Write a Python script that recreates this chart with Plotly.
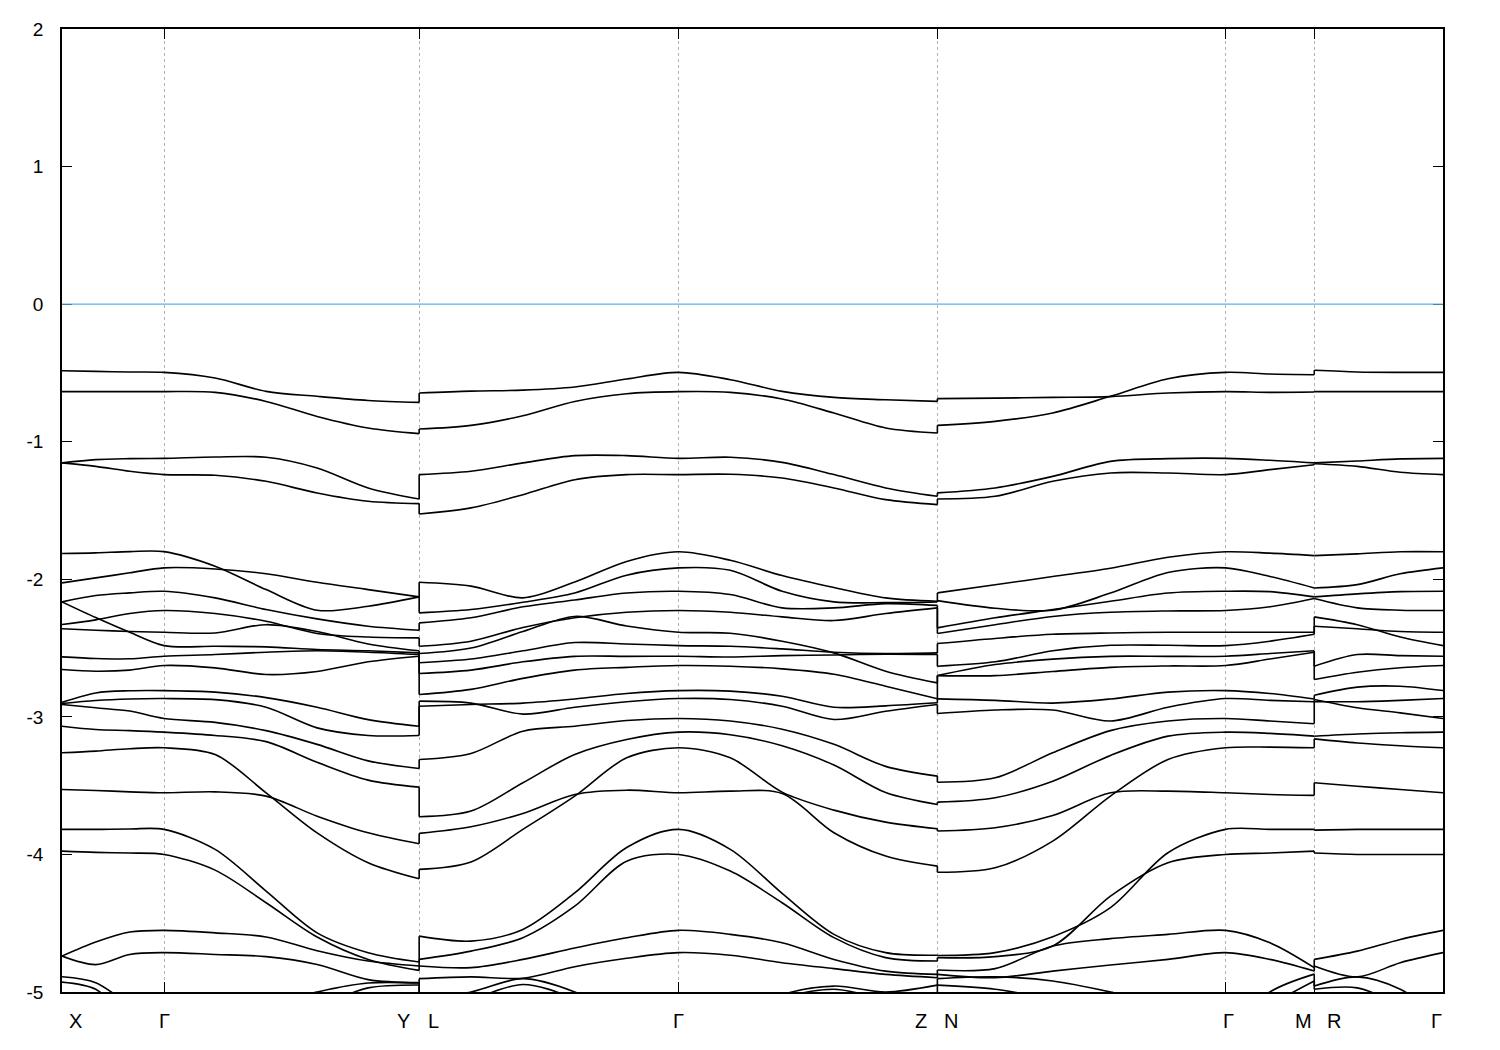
import plotly.graph_objects as go

# ---------------- data ----------------
# high-symmetry points along the k-path (path-length units)
k_sym = [0.0, 102.0, 357.0, 616.2, 875.0, 1163.0, 1251.7, 1380.4]
sym_labels = ["X", "Γ", "Y", "L", "Γ", "Z", "N", "Γ", "M", "R", "Γ"]

# run A : X - Γ - Y
kA = [0.0, 33.7, 67.7, 102.0, 153.0, 204.0, 255.0, 306.0, 357.0]
EA = [
    [-0.484, -0.489, -0.493, -0.496, -0.537, -0.634, -0.670, -0.700, -0.714],
    [-0.636, -0.636, -0.636, -0.636, -0.641, -0.707, -0.816, -0.900, -0.941],
    [-1.154, -1.130, -1.123, -1.121, -1.111, -1.113, -1.191, -1.336, -1.416],
    [-1.154, -1.179, -1.215, -1.239, -1.244, -1.288, -1.373, -1.433, -1.450],
    [-1.813, -1.808, -1.799, -1.799, -1.905, -2.075, -2.225, -2.196, -2.128],
    [-2.026, -1.990, -1.953, -1.917, -1.925, -1.960, -2.022, -2.075, -2.128],
    [-2.164, -2.118, -2.099, -2.087, -2.135, -2.220, -2.288, -2.341, -2.370],
    [-2.164, -2.278, -2.385, -2.482, -2.487, -2.491, -2.510, -2.520, -2.535],
    [-2.329, -2.295, -2.249, -2.227, -2.249, -2.305, -2.394, -2.420, -2.426],
    [-2.360, -2.370, -2.380, -2.385, -2.390, -2.330, -2.380, -2.470, -2.520],
    [-2.564, -2.576, -2.578, -2.559, -2.547, -2.530, -2.520, -2.530, -2.547],
    [-2.656, -2.668, -2.660, -2.627, -2.644, -2.692, -2.670, -2.600, -2.559],
    [-2.895, -2.826, -2.810, -2.809, -2.820, -2.860, -2.930, -3.020, -3.068],
    [-2.903, -2.881, -2.870, -2.867, -2.875, -2.930, -3.080, -3.135, -3.135],
    [-2.910, -2.934, -2.958, -3.012, -3.040, -3.100, -3.200, -3.320, -3.375],
    [-3.068, -3.092, -3.100, -3.111, -3.135, -3.180, -3.330, -3.460, -3.511],
    [-3.261, -3.249, -3.232, -3.225, -3.274, -3.552, -3.843, -4.060, -4.177],
    [-3.528, -3.535, -3.545, -3.552, -3.545, -3.576, -3.722, -3.843, -3.922],
    [-3.818, -3.818, -3.815, -3.818, -3.963, -4.266, -4.570, -4.714, -4.782],
    [-3.976, -3.985, -3.990, -4.000, -4.114, -4.351, -4.600, -4.763, -4.843],
    [-4.739, -4.637, -4.564, -4.552, -4.570, -4.600, -4.700, -4.775, -4.811],
    [-4.739, -4.801, -4.727, -4.714, -4.727, -4.743, -4.800, -4.910, -4.932],
    [-4.889, -4.932, -5.100, -5.300, -5.200, -5.100, -5.000, -4.935, -4.935],
    [-4.928, -4.980, -5.200, -5.350, -5.250, -5.150, -5.100, -4.970, -4.949],
]

# run B : L - Γ - Z
kB = [357.0, 408.8, 460.7, 512.5, 564.4, 616.2, 668.0, 719.8, 771.6, 823.3, 875.0]
EB = [
    [-0.646, -0.632, -0.625, -0.602, -0.544, -0.496, -0.549, -0.634, -0.678, -0.695, -0.707],
    [-0.908, -0.881, -0.811, -0.707, -0.651, -0.636, -0.641, -0.690, -0.791, -0.900, -0.937],
    [-1.239, -1.215, -1.154, -1.101, -1.101, -1.121, -1.113, -1.150, -1.239, -1.336, -1.397],
    [-1.525, -1.481, -1.385, -1.276, -1.239, -1.239, -1.237, -1.264, -1.336, -1.421, -1.457],
    [-2.022, -2.050, -2.135, -2.020, -1.870, -1.800, -1.862, -1.973, -2.060, -2.135, -2.160],
    [-2.244, -2.220, -2.167, -2.100, -1.970, -1.917, -1.935, -2.087, -2.164, -2.170, -2.165],
    [-2.317, -2.280, -2.200, -2.150, -2.100, -2.087, -2.111, -2.208, -2.208, -2.177, -2.190],
    [-2.487, -2.450, -2.350, -2.280, -2.240, -2.227, -2.240, -2.273, -2.300, -2.249, -2.208],
    [-2.540, -2.500, -2.380, -2.270, -2.340, -2.385, -2.392, -2.450, -2.535, -2.668, -2.753],
    [-2.607, -2.580, -2.520, -2.460, -2.470, -2.482, -2.487, -2.506, -2.530, -2.540, -2.535],
    [-2.685, -2.660, -2.600, -2.560, -2.560, -2.559, -2.565, -2.555, -2.550, -2.545, -2.547],
    [-2.838, -2.800, -2.720, -2.660, -2.640, -2.627, -2.632, -2.651, -2.690, -2.777, -2.869],
    [-2.886, -2.900, -2.980, -2.930, -2.890, -2.867, -2.874, -2.923, -3.019, -2.959, -2.910],
    [-2.923, -2.910, -2.900, -2.870, -2.830, -2.809, -2.813, -2.850, -2.930, -2.920, -2.898],
    [-3.310, -3.266, -3.104, -3.068, -3.027, -3.012, -3.030, -3.090, -3.200, -3.360, -3.431],
    [-3.726, -3.685, -3.479, -3.274, -3.165, -3.111, -3.130, -3.210, -3.350, -3.550, -3.637],
    [-4.109, -4.055, -3.818, -3.576, -3.298, -3.225, -3.298, -3.547, -3.678, -3.765, -3.813],
    [-3.847, -3.799, -3.702, -3.564, -3.533, -3.552, -3.540, -3.557, -3.842, -4.012, -4.085],
    [-4.594, -4.630, -4.545, -4.280, -3.950, -3.818, -3.963, -4.283, -4.581, -4.714, -4.733],
    [-4.763, -4.703, -4.605, -4.376, -4.049, -4.000, -4.121, -4.351, -4.605, -4.750, -4.775],
    [-4.811, -4.823, -4.763, -4.680, -4.606, -4.552, -4.581, -4.642, -4.763, -4.848, -4.872],
    [-4.903, -4.890, -4.900, -4.816, -4.755, -4.714, -4.733, -4.787, -4.830, -4.872, -4.896],
    [-5.050, -5.000, -4.903, -5.000, -5.200, -5.300, -5.200, -5.020, -4.957, -5.000, -4.950],
    [-5.100, -5.050, -4.945, -5.050, -5.250, -5.350, -5.250, -5.050, -4.980, -5.050, -5.050],
]

# run C : N - Γ - M
kC = [875.0, 932.7, 990.3, 1048.0, 1105.5, 1163.0, 1207.4, 1251.7]
EC = [
    [-0.687, -0.683, -0.678, -0.672, -0.646, -0.636, -0.641, -0.639],
    [-0.881, -0.852, -0.791, -0.670, -0.542, -0.496, -0.508, -0.513],
    [-1.372, -1.336, -1.252, -1.143, -1.123, -1.121, -1.135, -1.154],
    [-1.416, -1.397, -1.288, -1.227, -1.227, -1.239, -1.203, -1.167],
    [-2.099, -2.040, -1.980, -1.920, -1.840, -1.800, -1.810, -1.828],
    [-2.155, -2.210, -2.225, -2.100, -1.950, -1.917, -1.980, -2.063],
    [-2.353, -2.280, -2.220, -2.160, -2.100, -2.087, -2.090, -2.128],
    [-2.394, -2.330, -2.270, -2.240, -2.230, -2.227, -2.200, -2.140],
    [-2.467, -2.430, -2.400, -2.390, -2.385, -2.385, -2.385, -2.385],
    [-2.632, -2.600, -2.520, -2.480, -2.480, -2.482, -2.450, -2.400],
    [-2.700, -2.620, -2.580, -2.560, -2.560, -2.559, -2.540, -2.520],
    [-2.700, -2.700, -2.670, -2.640, -2.630, -2.627, -2.580, -2.530],
    [-2.869, -2.880, -2.900, -2.870, -2.820, -2.809, -2.830, -2.870],
    [-2.976, -2.950, -2.950, -3.030, -2.930, -2.867, -2.880, -2.890],
    [-3.475, -3.443, -3.261, -3.100, -3.030, -3.012, -3.030, -3.050],
    [-3.620, -3.588, -3.468, -3.280, -3.140, -3.111, -3.120, -3.140],
    [-4.130, -4.097, -3.903, -3.576, -3.310, -3.225, -3.220, -3.225],
    [-3.830, -3.806, -3.717, -3.552, -3.540, -3.552, -3.564, -3.571],
    [-4.735, -4.714, -4.598, -4.387, -3.988, -3.818, -3.818, -3.818],
    [-4.750, -4.743, -4.666, -4.303, -4.060, -4.000, -3.990, -3.976],
    [-4.840, -4.830, -4.666, -4.612, -4.581, -4.552, -4.642, -4.823],
    [-4.872, -4.896, -4.848, -4.804, -4.763, -4.714, -4.763, -4.848],
    [-4.903, -4.890, -4.920, -5.000, -5.100, -5.300, -5.000, -4.870],
    [-4.950, -4.980, -5.050, -5.100, -5.200, -5.350, -5.100, -4.920],
]

# run D : R - Γ
kD = [1251.7, 1294.7, 1337.7, 1380.4]
ED = [
    [-0.481, -0.493, -0.496, -0.496],
    [-0.636, -0.636, -0.636, -0.636],
    [-1.154, -1.140, -1.125, -1.121],
    [-1.160, -1.179, -1.222, -1.239],
    [-1.828, -1.815, -1.800, -1.800],
    [-2.063, -2.039, -1.960, -1.917],
    [-2.128, -2.106, -2.090, -2.087],
    [-2.140, -2.208, -2.225, -2.227],
    [-2.273, -2.330, -2.420, -2.482],
    [-2.341, -2.360, -2.380, -2.385],
    [-2.632, -2.547, -2.555, -2.559],
    [-2.729, -2.676, -2.643, -2.627],
    [-2.843, -2.784, -2.777, -2.809],
    [-2.874, -2.934, -2.971, -3.012],
    [-2.890, -2.890, -2.880, -2.867],
    [-3.141, -3.125, -3.115, -3.111],
    [-3.160, -3.190, -3.210, -3.225],
    [-3.479, -3.504, -3.528, -3.552],
    [-3.823, -3.818, -3.818, -3.818],
    [-3.990, -4.000, -4.000, -4.000],
    [-4.763, -4.703, -4.618, -4.552],
    [-4.811, -4.890, -4.787, -4.714],
    [-4.957, -4.890, -4.980, -5.200],
    [-4.980, -4.970, -5.100, -5.300],
]

y_ticks = [2, 1, 0, -1, -2, -3, -4, -5]
fermi_level = 0.0

# ---------------- figure ----------------
fig = go.Figure()
band_line = dict(color="black", width=1.6, shape="spline", smoothing=0.9)

for k, E in [(kA, EA), (kB, EB), (kC, EC), (kD, ED)]:
    for row in E:
        fig.add_trace(go.Scatter(x=k, y=row, mode="lines", line=band_line,
                                 hoverinfo="skip", showlegend=False))

# vertical steps at the path discontinuities (bands connected by index)
jx, jy = [], []
for kpos, Eleft, Eright in [(kA[-1], EA, EB), (kB[-1], EB, EC), (kC[-1], EC, ED)]:
    ends = sorted(r[-1] for r in Eleft)
    starts = sorted(r[0] for r in Eright)
    for a, b in zip(ends, starts):
        jx += [kpos, kpos, None]
        jy += [a, b, None]
fig.add_trace(go.Scatter(x=jx, y=jy, mode="lines",
                         line=dict(color="black", width=1.6),
                         hoverinfo="skip", showlegend=False))

# Fermi level
fig.add_shape(type="line", xref="paper", x0=0, x1=1, yref="y",
              y0=fermi_level, y1=fermi_level,
              line=dict(color="#56b4e9", width=1.2), layer="above")

font_family = "Liberation Sans, Arial, sans-serif"

fig.update_layout(
    width=1500, height=1050,
    margin=dict(l=54, r=65, t=21, b=66),
    paper_bgcolor="white", plot_bgcolor="white",
    font=dict(family=font_family, size=19, color="black"),
    showlegend=False,
)
fig.update_xaxes(
    range=[k_sym[0], k_sym[-1]],
    tickvals=k_sym, ticktext=[""] * len(k_sym),
    ticks="inside", ticklen=10, tickwidth=1, tickcolor="black",
    showgrid=True, gridcolor="#b0b0b0", gridwidth=1, griddash="3px,3px",
    showline=True, linecolor="black", linewidth=1.5, mirror="ticks",
    zeroline=False,
)
fig.update_yaxes(
    range=[-5, 2],
    tickvals=y_ticks, ticktext=[str(v) for v in y_ticks],
    ticks="inside", ticklen=10, tickwidth=1, tickcolor="black",
    ticklabelstandoff=13,
    tickfont=dict(family=font_family, size=19, color="black"),
    showgrid=False, zeroline=False,
    showline=True, linecolor="black", linewidth=1.5, mirror="ticks",
)

# k-point labels under the axis
label_x = [13.7, 102.0, 341.0, 371.0, 616.2, 859.0, 889.0, 1165.7, 1241.0, 1271.0, 1373.7]
for lab, xv in zip(sym_labels, label_x):
    fig.add_annotation(x=xv, xref="x", y=0, yref="paper", yanchor="top",
                       yshift=-16, text=lab, showarrow=False,
                       font=dict(family=font_family, size=20, color="black"))

fig.write_html("out.html")
